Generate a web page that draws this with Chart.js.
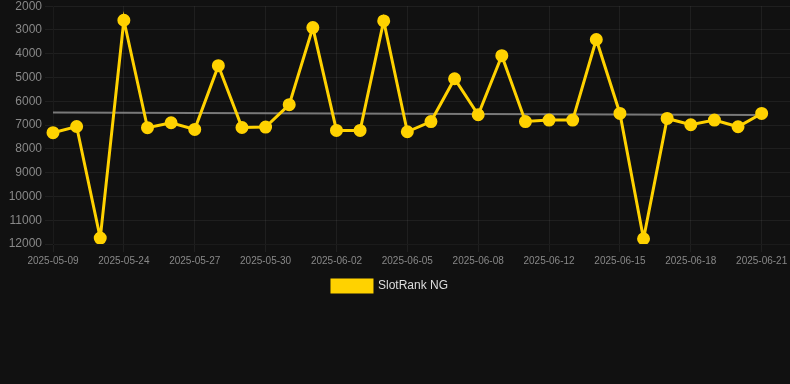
<!DOCTYPE html>
<html>
<head>
<meta charset="utf-8">
<script src="https://cdn.jsdelivr.net/npm/chart.js@4/dist/chart.umd.min.js"></script>
<style>
  html, body { margin: 0; padding: 0; background: #111111; overflow: hidden; }
  #wrap { width: 800px; height: 306px; position: relative; left: -10px; top: -4px; }
</style>
</head>
<body>
<div id="wrap"><canvas id="rankchart"></canvas></div>
<script>
var dates = ['2025-05-09', '2025-05-22', '2025-05-23', '2025-05-24', '2025-05-25', '2025-05-26',
  '2025-05-27', '2025-05-28', '2025-05-29', '2025-05-30', '2025-05-31', '2025-06-01',
  '2025-06-02', '2025-06-03', '2025-06-04', '2025-06-05', '2025-06-06', '2025-06-07',
  '2025-06-08', '2025-06-10', '2025-06-11', '2025-06-12', '2025-06-13', '2025-06-14',
  '2025-06-15', '2025-06-16', '2025-06-17', '2025-06-18', '2025-06-19', '2025-06-20',
  '2025-06-21'];

var rankValues = [7320, 7060, 11750, 2590, 7110, 6900, 7180, 4500, 7100, 7085, 6140, 2900,
  7225, 7225, 2620, 7280, 6850, 5050, 6565, 4080, 6850, 6790, 6790, 3400, 6510, 11780,
  6720, 6985, 6790, 7070, 6510];

var trendValues = [6470, null, null, null, null, null, null, null, null, null, null, null,
  null, null, null, null, null, null, null, null, null, null, null, null, null, null,
  null, null, null, null, 6580];

var gold = '#FFD200';

document.addEventListener('DOMContentLoaded', function () {
  var data = {
    labels: dates,
    datasets: [{
      label: 'SlotRank NG',
      data: rankValues,
      borderColor: gold,
      backgroundColor: gold,
      borderWidth: 3,
      pointRadius: 5,
      pointHoverRadius: 6,
      pointBackgroundColor: gold,
      pointBorderColor: gold,
      tension: 0,
      order: 1
    }, {
      label: 'trend',
      data: trendValues,
      borderColor: 'rgba(140,140,140,0.85)',
      borderWidth: 2,
      pointRadius: 0,
      spanGaps: true,
      order: 2
    }]
  };

  var config = {
    type: 'line',
    data: data,
    options: {
      responsive: true,
      maintainAspectRatio: false,
      animation: false,
      layout: { autoPadding: false },
      scales: {
        x: {
          grid: { color: 'rgba(255,255,255,0.06)' },
          ticks: {
            color: '#888',
            font: { size: 10 },
            maxRotation: 0,
            autoSkip: true,
            maxTicksLimit: 11
          },
          // axis runs a little past the last day
          afterBuildTicks: function (scale) { scale._valueRange = 31.2; },
          afterFit: function (scale) { scale.paddingRight = 0; }
        },
        y: {
          reverse: true,
          min: 2000,
          max: 12000,
          grid: { color: 'rgba(255,255,255,0.06)' },
          ticks: {
            color: '#888',
            font: { size: 12 },
            stepSize: 1000,
            callback: function (v) { return String(v); }
          },
          afterFit: function (scale) { scale.width = 63; }
        }
      },
      plugins: {
        legend: {
          position: 'bottom',
          labels: {
            color: '#ddd',
            font: { size: 12 },
            boxWidth: 40,
            boxHeight: 12,
            filter: function (item) { return item.text !== 'trend'; }
          }
        },
        tooltip: { enabled: false }
      }
    }
  };

  var ctx = document.getElementById('rankchart').getContext('2d');
  new Chart(ctx, config);
});
</script>
</body>
</html>
